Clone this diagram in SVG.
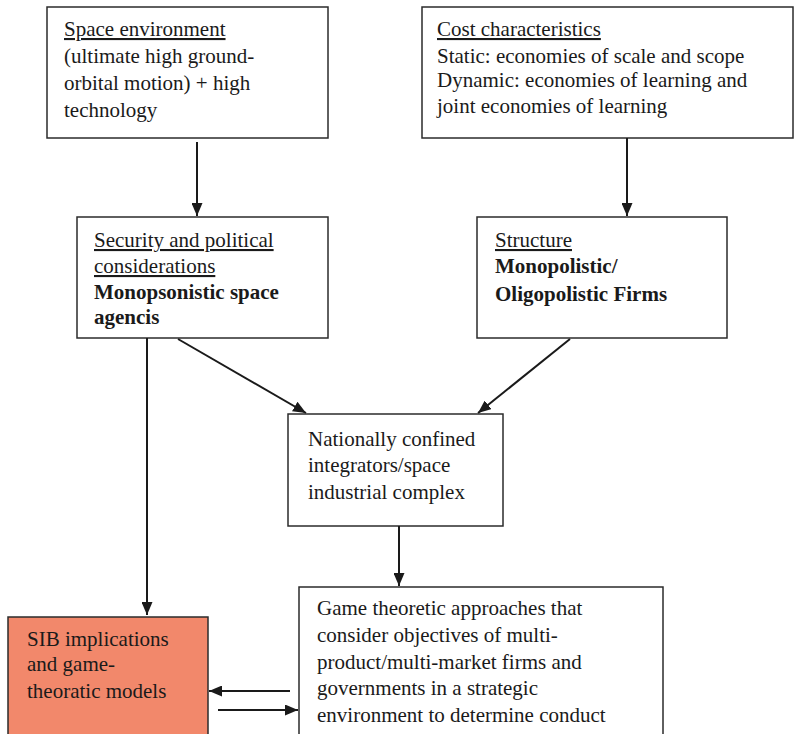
<svg xmlns="http://www.w3.org/2000/svg" width="795" height="734" viewBox="0 0 795 734">
<defs>
<marker id="ah" viewBox="0 0 13 11" refX="13" refY="5.5" markerWidth="13" markerHeight="11" markerUnits="userSpaceOnUse" orient="auto">
<path d="M0,0 L13,5.5 L0,11 Z" fill="#1a1a1a"/>
</marker>
<style>
.box{fill:#fff;stroke:#2b2b2b;stroke-width:1.5}
.sib{fill:#F2886B;stroke:#2b2b2b;stroke-width:1.5}
text{font-family:'Liberation Serif','Times New Roman',serif;font-size:21px;fill:#1a1a1a}
.u{text-decoration:underline}
.b{font-weight:bold}
.c{stroke:#1a1a1a;stroke-width:2;fill:none;marker-end:url(#ah)}
</style>
</defs>
<rect width="795" height="734" fill="#fff"/>
<g id="space-environment">
<rect class="box" x="47" y="7" width="281" height="131"/>
<text x="64" y="36"><tspan class="u">Space environment</tspan></text>
<text x="64" y="63">(ultimate high ground-</text>
<text x="64" y="90">orbital motion) + high</text>
<text x="64" y="117">technology</text>
</g>
<g id="cost-characteristics">
<rect class="box" x="422" y="7" width="371" height="131"/>
<text x="437" y="36"><tspan class="u">Cost characteristics </tspan></text>
<text x="437" y="63">Static: economies of scale and scope</text>
<text x="437" y="87">Dynamic: economies of learning and</text>
<text x="437" y="113">joint economies of learning</text>
</g>
<g id="security">
<rect class="box" x="77" y="217" width="251" height="121"/>
<text x="94" y="247"><tspan class="u">Security and political</tspan></text>
<text x="94" y="273"><tspan class="u">considerations</tspan></text>
<text class="b" x="94" y="299">Monopsonistic space</text>
<text class="b" x="94" y="324">agencis</text>
</g>
<g id="structure">
<rect class="box" x="477" y="217" width="250" height="121"/>
<text x="495" y="247"><tspan class="u">Structure</tspan></text>
<text class="b" x="495" y="273">Monopolistic/</text>
<text class="b" x="495" y="301">Oligopolistic Firms</text>
</g>
<g id="nationally-confined">
<rect class="box" x="288" y="414" width="215" height="112"/>
<text x="308" y="446">Nationally confined</text>
<text x="308" y="472">integrators/space</text>
<text x="308" y="499">industrial complex</text>
</g>
<g id="sib-implications">
<rect class="sib" x="8" y="617" width="200" height="125"/>
<text x="27" y="646">SIB implications</text>
<text x="27" y="671">and game-</text>
<text x="27" y="698">theoratic models</text>
</g>
<g id="game-theoretic">
<rect class="box" x="299" y="587" width="364" height="155"/>
<text x="317" y="615">Game theoretic approaches that</text>
<text x="317" y="642">consider objectives of multi-</text>
<text x="317" y="669">product/multi-market firms and</text>
<text x="317" y="695">governments in a strategic</text>
<text x="317" y="722">environment to determine conduct</text>
</g>
<g id="connectors">
<line class="c" x1="197" y1="142" x2="197" y2="216"/>
<line class="c" x1="627" y1="138" x2="627" y2="216"/>
<line class="c" x1="178" y1="339" x2="306" y2="413"/>
<line class="c" x1="570" y1="339" x2="478" y2="413"/>
<line class="c" x1="147" y1="338" x2="147" y2="615"/>
<line class="c" x1="399" y1="526" x2="399" y2="586"/>
<line class="c" x1="290" y1="691" x2="209" y2="691"/>
<line class="c" x1="218" y1="710" x2="298" y2="710"/>
</g>
</svg>
